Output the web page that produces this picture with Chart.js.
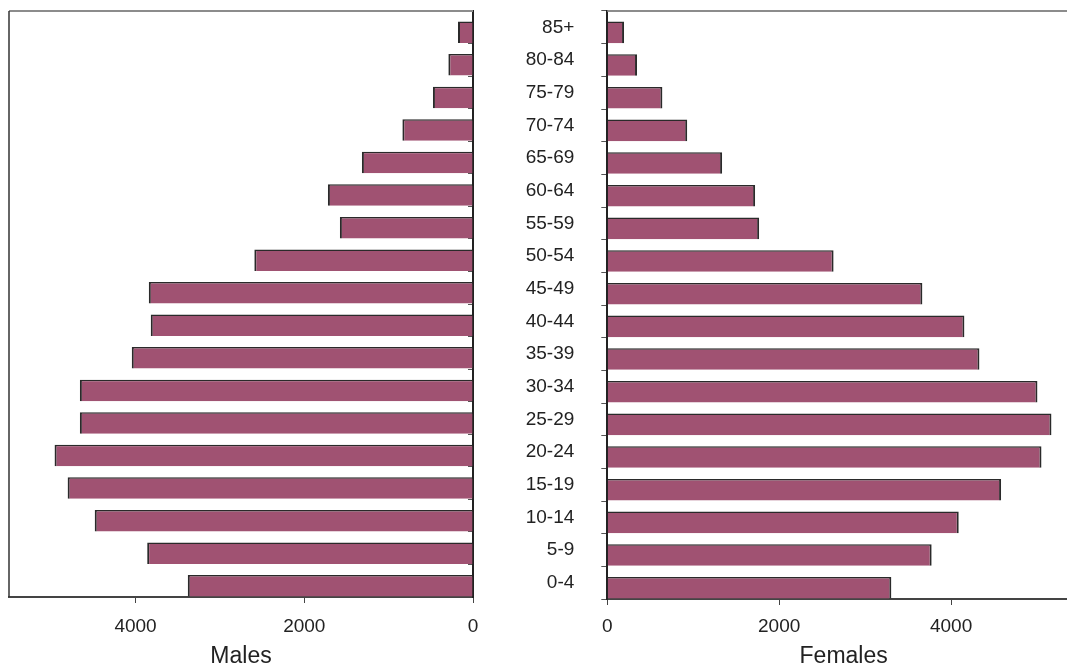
<!DOCTYPE html>
<html>
<head>
<meta charset="utf-8">
<script src="https://cdn.jsdelivr.net/npm/chart.js@4.4.0/dist/chart.umd.min.js"></script>
<style>
  body { margin: 0; width: 1067px; height: 670px; overflow: hidden; background: #fff; position: relative; }
  canvas { position: absolute; top: 0; }
  #males { left: 0; }
  #females { left: 480px; }
</style>
</head>
<body>
<canvas id="males" width="490" height="670"></canvas>
<canvas id="females" width="600" height="670"></canvas>
<script>
const ageGroups = ['85+', '80-84', '75-79', '70-74', '65-69', '60-64', '55-59', '50-54', '45-49',
  '40-44', '35-39', '30-34', '25-29', '20-24', '15-19', '10-14', '5-9', '0-4'];
const males = [178, 292, 475, 837, 1317, 1720, 1578, 2592, 3843,
  3820, 4045, 4660, 4660, 4960, 4805, 4484, 3862, 3381];
const females = [195, 346, 641, 930, 1336, 1720, 1767, 2633, 3666,
  4155, 4330, 5005, 5168, 5052, 4582, 4089, 3774, 3305];
const xTicks = [0, 2000, 4000];
const axisMax = 5500;

const barColor = '#a05272';
const edgeColor = '#2a2a2a';
const textColor = '#222';
const fontFamily = '"Liberation Sans", Arial, sans-serif';
const barPct = 0.66;

// bars sit on the lower edge of each age band, like in the original
const bandShift = {
  id: 'bandShift',
  beforeDatasetsDraw(chart) {
    const y = chart.scales.y;
    const band = (y.bottom - y.top) / ageGroups.length;
    chart.ctx.save();
    chart.ctx.translate(0, band / 2 - band * barPct / 2 - 0.5);
  },
  afterDatasetsDraw(chart) {
    chart.ctx.restore();
  }
};

// grey line on top, dark line on the outer side
const frame = {
  id: 'frame',
  afterDraw(chart, args, opts) {
    const { ctx, chartArea: a } = chart;
    ctx.save();
    ctx.strokeStyle = '#8c8c8c';
    ctx.lineWidth = 2;
    ctx.beginPath();
    ctx.moveTo(a.left, a.top);
    ctx.lineTo(a.right, a.top);
    ctx.stroke();
    if (opts.leftEdge) {
      ctx.strokeStyle = '#333';
      ctx.lineWidth = 1.5;
      ctx.beginPath();
      ctx.moveTo(a.left, a.top);
      ctx.lineTo(a.left, a.bottom);
      ctx.stroke();
    }
    ctx.restore();
  }
};

function makeChart(id, values, side) {
  const isMale = side === 'left';
  return new Chart(document.getElementById(id), {
    type: 'bar',
    data: {
      labels: ageGroups,
      datasets: [{
        data: values,
        backgroundColor: barColor,
        borderColor: edgeColor,
        borderSkipped: false,
        borderWidth: isMale ? { top: 1.5, left: 2, right: 0, bottom: 0 } : { top: 1.5, right: 2, left: 0, bottom: 0 },
        categoryPercentage: 1,
        barPercentage: barPct
      }]
    },
    options: {
      indexAxis: 'y',
      responsive: false,
      animation: false,
      devicePixelRatio: 1,
      layout: { padding: isMale ? { left: 9, top: 11, right: 0, bottom: 0 } : { left: 0, top: 11, right: 0, bottom: 0 } },
      plugins: {
        legend: { display: false },
        tooltip: { enabled: false },
        frame: { leftEdge: isMale }
      },
      scales: {
        x: {
          reverse: isMale,
          min: 0,
          max: axisMax,
          afterBuildTicks: s => { s.ticks = xTicks.map(v => ({ value: v })); },
          afterFit: s => { s.height = isMale ? 73 : 71; },
          grid: { drawOnChartArea: false, tickLength: 6, color: '#444' },
          border: { color: '#444', width: 2 },
          ticks: {
            color: textColor,
            font: { family: fontFamily, size: 19 },
            padding: isMale ? 12 : 10,
            maxRotation: 0,
            callback: v => String(v)
          },
          title: {
            display: true,
            text: isMale ? 'Males' : 'Females',
            color: textColor,
            font: { family: fontFamily, size: 23 },
            padding: { top: 0, bottom: 0 }
          }
        },
        y: {
          position: isMale ? 'right' : 'left',
          afterFit: s => {
            s.width = isMale ? 17 : 127.3;
            s.paddingTop = 0;
            s.paddingBottom = 0;
          },
          grid: { drawOnChartArea: false, offset: true, tickLength: isMale ? -5 : 6, color: '#555' },
          border: { color: '#222', width: 2 },
          ticks: isMale ? { display: false } : { color: textColor, font: { family: fontFamily, size: 19 }, padding: 27 }
        }
      }
    },
    plugins: [bandShift, frame]
  });
}

makeChart('males', males, 'left');
makeChart('females', females, 'right');
</script>
</body>
</html>
